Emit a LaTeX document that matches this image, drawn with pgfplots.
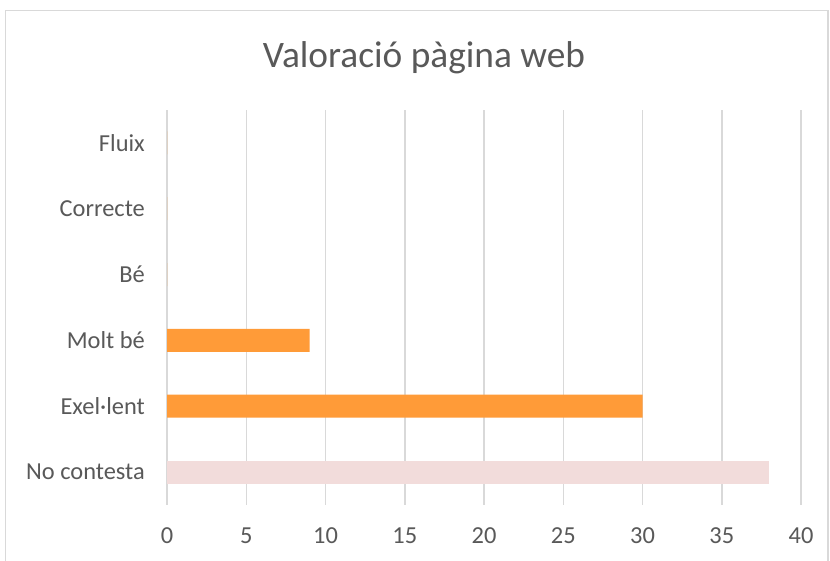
\documentclass[border=0pt]{standalone}
\usepackage{pgfplots}
\pgfplotsset{compat=1.18}
\usepackage{fontspec}
\setmainfont{Carlito}
\definecolor{txt}{HTML}{595959}
\definecolor{gridgray}{HTML}{D9D9D9}
\definecolor{orangebar}{HTML}{FF9B38}
\definecolor{pinkbar}{HTML}{F2DCDB}
\begin{document}
\begin{tikzpicture}[x=1bp,y=1bp]
\useasboundingbox[fill=white] (0,0) rectangle (830,561);
\draw[gridgray, line width=1.5bp] (5.5,-10) -- (5.5,550.5) -- (828,550.5) -- (828,-10);
\node[txt, font=\fontsize{37.5}{44}\selectfont] at (424,503) {Valoració pàgina web};
\begin{axis}[
  at={(167bp,56bp)}, anchor=south west,
  width=634bp, height=395bp, scale only axis,
  xmin=0, xmax=40, ymin=-0.5, ymax=5.5,
  xtick={0,5,...,40},
  ytick={0,1,2,3,4,5},
  yticklabels={No contesta, Exel·lent, Molt bé\ , Bé\ , Correcte, Fluix},
  xmajorgrids, ymajorgrids=false,
  major grid style={draw=gridgray, line width=1.5bp},
  axis line style={draw=none},
  tick style={draw=none},
  major tick length=0pt,
  /pgf/number format/assume math mode=true,
  ticklabel style={txt, font=\fontsize{24.5}{29}\selectfont, inner sep=0pt},
  xticklabel style={anchor=center, yshift=-31bp},
  yticklabel style={anchor=east, xshift=-22bp},
  xbar, bar width=23bp, bar shift=0pt,
  clip=false,
]
\addplot[draw=none, fill=pinkbar] coordinates {(38,0)};
\addplot[draw=none, fill=orangebar] coordinates {(30,1) (9,2) (0,3) (0,4) (0,5)};
\end{axis}
\end{tikzpicture}
\end{document}
